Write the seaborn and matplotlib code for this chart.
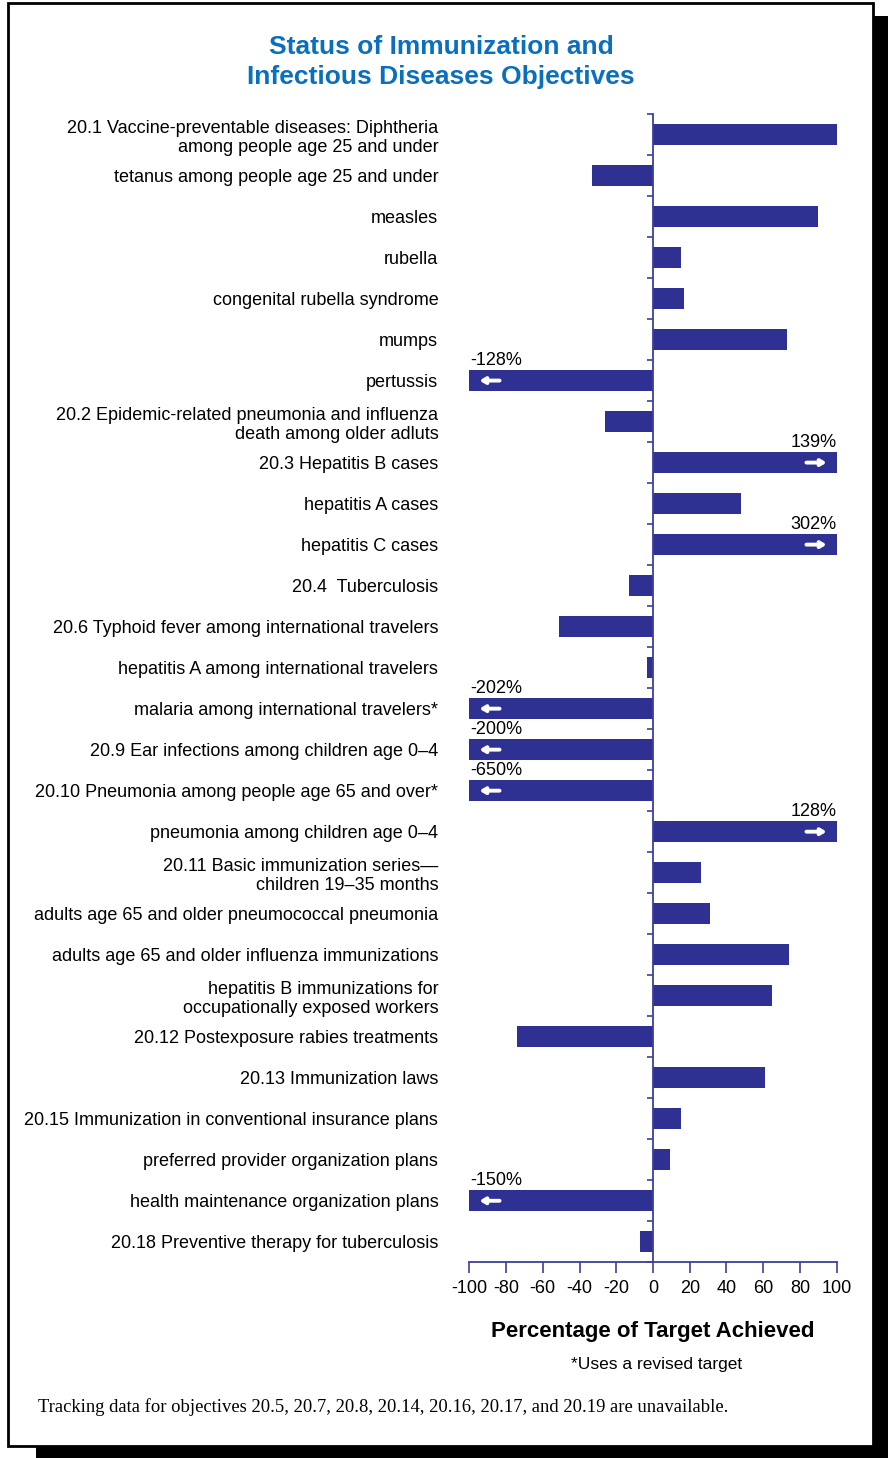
import numpy as np
import pandas as pd
import matplotlib.pyplot as plt
import seaborn as sns
from matplotlib.patches import Rectangle
from matplotlib import font_manager

# Data
labels = [
    "20.1 Vaccine-preventable diseases: Diphtheria\namong people age 25 and under",
    "tetanus among people age 25 and under",
    "measles",
    "rubella",
    "congenital rubella syndrome",
    "mumps",
    "pertussis",
    "20.2 Epidemic-related pneumonia and influenza\ndeath among older adluts",
    "20.3 Hepatitis B cases",
    "hepatitis A cases",
    "hepatitis C cases",
    "20.4  Tuberculosis",
    "20.6 Typhoid fever among international travelers",
    "hepatitis A among international travelers",
    "malaria among international travelers*",
    "20.9 Ear infections among children age 0\u20134",
    "20.10 Pneumonia among people age 65 and over*",
    "pneumonia among children age 0\u20134",
    "20.11 Basic immunization series\u2014\nchildren 19\u201335 months",
    "adults age 65 and older pneumococcal pneumonia",
    "adults age 65 and older influenza immunizations",
    "hepatitis B immunizations for\noccupationally exposed workers",
    "20.12 Postexposure rabies treatments",
    "20.13 Immunization laws",
    "20.15 Immunization in conventional insurance plans",
    "preferred provider organization plans",
    "health maintenance organization plans",
    "20.18 Preventive therapy for tuberculosis",
]
values = [100, -33, 90, 15, 17, 73, -128, -26, 139, 48, 302, -13, -51, -3,
          -202, -200, -650, 128, 26, 31, 74, 65, -74, 61, 15, 9, -150, -7]
x_ticks = list(range(-100, 101, 20))

BAR = "#2e3192"
AXC = "#3d3f9e"
TITLE_C = "#0a6fbd"

sns.set_style("white")
installed = {f.name for f in font_manager.fontManager.ttflist}
narrow = "Liberation Sans Narrow" if "Liberation Sans Narrow" in installed else "Liberation Sans"
plt.rcParams["font.family"] = [narrow, "DejaVu Sans"]
for k in ("text.color", "axes.labelcolor", "xtick.labelcolor", "ytick.labelcolor"):
    plt.rcParams[k] = "black"

df = pd.DataFrame({"label": labels, "value": values})
df["shown"] = df["value"].clip(-100, 100)

fig = plt.figure(figsize=(8.88, 14.58), dpi=100)

# page frame with drop shadow
fig.patches.append(Rectangle((36 / 888, 0), 1 - 36 / 888, 1 - 16 / 1458,
                             transform=fig.transFigure, facecolor="black",
                             edgecolor="none", zorder=-3))
fig.patches.append(Rectangle((8 / 888, 12 / 1458), 865 / 888, 1443 / 1458,
                             transform=fig.transFigure, facecolor="white",
                             edgecolor="black", linewidth=2, zorder=-2))

ax = fig.add_axes([469.3 / 888, 1 - 1262.3 / 1458, 367.4 / 888, 1148.3 / 1458])
ax.patch.set_alpha(0)

sns.barplot(data=df, x="shown", y="label", orient="h", color=BAR,
            saturation=1, width=0.52, linewidth=0, ax=ax)

n = len(labels)
ax.set_xlim(-100, 100)
ax.set_ylim(n - 0.5, -0.5)

sns.despine(ax=ax, top=True, right=True)
ax.spines["left"].set_position(("data", 0))
for s in ("left", "bottom"):
    ax.spines[s].set_color(AXC)
    ax.spines[s].set_linewidth(1.3)

ax.set_xticks(x_ticks)
ax.set_xticklabels([str(t) for t in x_ticks], fontsize=13)
ax.tick_params(axis="x", bottom=True, direction="out", length=8, width=1.2,
               color=AXC, pad=5)
ax.set_yticks(np.arange(-0.5, n, 1), minor=True)
ax.tick_params(axis="y", which="minor", left=True, direction="out", length=4,
               width=1.2, color=AXC)
ax.tick_params(axis="y", which="major", left=True, length=0, pad=154.6, labelsize=13)
ax.set_ylabel("")
ax.set_xlabel("Percentage of Target Achieved", fontsize=16, fontweight="bold", labelpad=17)

# off-scale values: label + arrow
arrow = dict(arrowstyle="-|>,head_width=0.18,head_length=0.3", lw=2.8, color="white")
for i, v in enumerate(values):
    if v > 100:
        ax.text(100, i - 0.28, f"{v}%", ha="right", va="bottom", fontsize=13)
        ax.annotate("", xy=(96, i), xytext=(82, i), arrowprops=arrow)
    elif v < -100:
        ax.text(-99.5, i - 0.28, f"{v}%", ha="left", va="bottom", fontsize=13)
        ax.annotate("", xy=(-96, i), xytext=(-82, i), arrowprops=arrow)

fig.text(441 / 888, 1 - 62 / 1458,
         "Status of Immunization and\nInfectious Diseases Objectives",
         ha="center", va="center", fontsize=19, fontweight="bold",
         color=TITLE_C, family=["Liberation Sans", "DejaVu Sans"], linespacing=1.3)
fig.text(657 / 888, 1 - 1364 / 1458, "*Uses a revised target",
         ha="center", va="center", fontsize=12.5)
fig.text(38 / 888, 1 - 1407 / 1458,
         "Tracking data for objectives 20.5, 20.7, 20.8, 20.14, 20.16, 20.17, and 20.19 are unavailable.",
         ha="left", va="center", fontsize=13.4,
         family=["Liberation Serif", "DejaVu Serif"])

fig.savefig("out.png", dpi=100)
